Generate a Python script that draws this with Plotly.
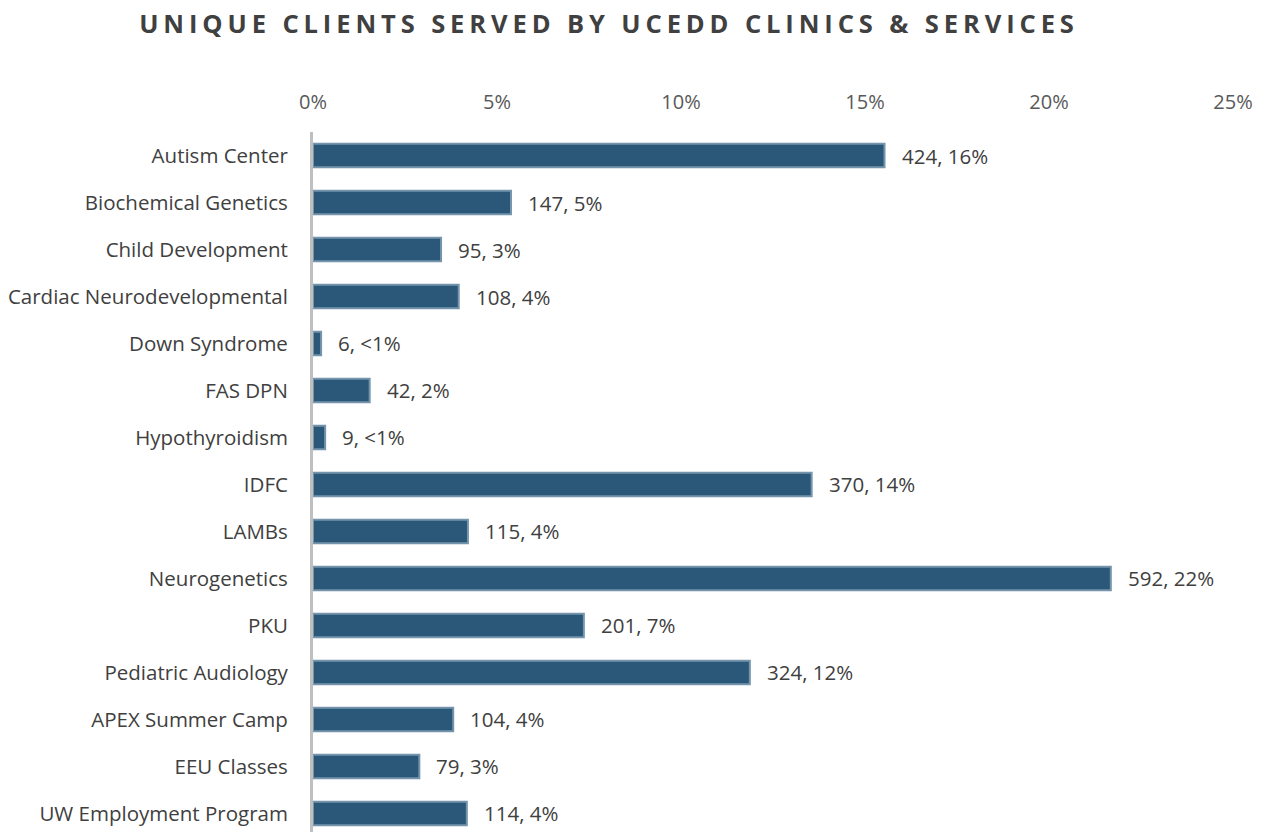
import plotly.graph_objects as go

categories = [
    "Autism Center", "Biochemical Genetics", "Child Development",
    "Cardiac Neurodevelopmental", "Down Syndrome", "FAS DPN",
    "Hypothyroidism", "IDFC", "LAMBs", "Neurogenetics", "PKU",
    "Pediatric Audiology", "APEX Summer Camp", "EEU Classes",
    "UW Employment Program",
]
clients = [424, 147, 95, 108, 6, 42, 9, 370, 115, 592, 201, 324, 104, 79, 114]
share = [0.1553, 0.0538, 0.0348, 0.0396, 0.0022, 0.0154, 0.0033, 0.1355,
         0.0421, 0.2168, 0.0736, 0.1187, 0.0381, 0.0289, 0.0418]
share_labels = ["16%", "5%", "3%", "4%", "<1%", "2%", "<1%", "14%",
                "4%", "22%", "7%", "12%", "4%", "3%", "4%"]
x_ticks = [0, 0.05, 0.10, 0.15, 0.20, 0.25]
x_tick_labels = ["0%", "5%", "10%", "15%", "20%", "25%"]

FONT = "Open Sans"
TXT = "#404040"

fig = go.Figure()
fig.add_trace(go.Bar(
    x=share, y=categories, orientation="h", width=0.5,
    marker=dict(color="#2B5778", line=dict(color="#7595AC", width=2)),
    hoverinfo="skip", showlegend=False,
))

for c, v, n, s in zip(categories, share, clients, share_labels):
    fig.add_annotation(
        x=v, y=c, xref="x", yref="y", text=f"{n}, {s}",
        showarrow=False, xanchor="left", yanchor="middle", xshift=15,
        font=dict(family=FONT, size=20.5, color=TXT),
    )

fig.update_layout(
    width=1268, height=832,
    margin=dict(l=313, r=35, t=132, b=0),
    paper_bgcolor="white", plot_bgcolor="white",
    title=dict(
        text="<b>UNIQUE CLIENTS SERVED BY UCEDD CLINICS &amp; SERVICES</b>",
        x=609 / 1268, xanchor="center", y=1 - 24.5 / 832, yanchor="middle",
        font=dict(family=FONT, size=25.5, color=TXT),
    ),
    xaxis=dict(
        side="top", range=[0, 0.25], tickvals=x_ticks, ticktext=x_tick_labels,
        showgrid=False, zeroline=False, showline=False,
        ticks="outside", ticklen=14, tickcolor="rgba(0,0,0,0)",
        tickfont=dict(family=FONT, size=20, color="#595959"),
    ),
    yaxis=dict(
        categoryorder="array", categoryarray=categories,
        range=[14.394, -0.5],
        showgrid=False, zeroline=False,
        showline=True, linecolor="#BFBFBF", linewidth=3,
        ticks="outside", ticklen=18, tickcolor="rgba(0,0,0,0)",
        tickfont=dict(family=FONT, size=20.5, color=TXT),
    ),
)

post = ("document.body.style.margin='0';"
        "var t=document.querySelector('.gtitle'); if(t){t.style.letterSpacing='4.9px';}")
fig.write_html("out.html", post_script=post, config={"displayModeBar": False})
